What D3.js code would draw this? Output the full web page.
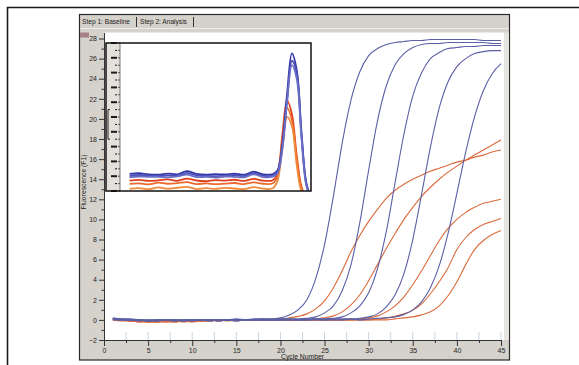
<!DOCTYPE html>
<html><head><meta charset="utf-8">
<script src="https://cdn.jsdelivr.net/npm/d3@7"></script>
<style>body{margin:0;background:#fff}svg{display:block}text{font-family:"Liberation Sans",Arial,sans-serif}</style>
</head><body><svg id="c" width="579" height="365"></svg>
<script>
// ---------- data ----------
const cycles = d3.range(1, 46);
const blue1 = [0.2,0.1,0.1,0.0,0.0,-0.1,0.0,0.0,-0.1,0.0,0.0,0.0,0.0,0.0,0.1,0.0,0.1,0.1,0.1,0.2,0.5,1.0,2.0,4.1,7.5,12.3,17.6,21.9,24.7,26.3,27.0,27.4,27.6,27.7,27.8,27.8,27.9,27.9,27.9,27.9,27.9,27.9,27.8,27.8,27.8];
const blue2 = [0.1,0.1,0.0,0.0,-0.1,-0.1,0.0,0.0,0.0,-0.1,0.0,0.0,0.0,0.0,0.0,0.0,0.0,0.1,0.0,0.1,0.1,0.1,0.15,0.3,0.7,1.4,2.9,5.5,9.7,14.9,19.8,23.3,25.4,26.5,27.1,27.4,27.5,27.5,27.6,27.6,27.6,27.6,27.6,27.5,27.5];
const blue3 = [0.1,0.0,0.0,0.0,-0.1,0.0,0.0,-0.1,0.0,0.0,0.0,-0.1,0.0,0.0,0.0,0.0,0.0,0.0,0.0,0.0,0.1,0.0,0.1,0.1,0.1,0.15,0.3,0.7,1.4,2.7,5.1,8.8,13.7,18.5,22.3,24.6,26.0,26.6,27.0,27.1,27.2,27.2,27.3,27.3,27.3];
const blue4 = [0.1,0.0,0.0,-0.1,0.0,0.0,0.0,-0.1,0.0,0.0,0.0,0.0,-0.1,0.0,0.0,0.0,0.0,0.0,0.0,0.0,0.0,0.0,0.0,0.1,0.0,0.1,0.1,0.1,0.16,0.3,0.6,1.3,2.5,4.6,8.0,12.5,17.2,21.1,23.7,25.2,26.0,26.5,26.7,26.8,26.8];
const blue5 = [0.0,0.0,0.0,0.0,-0.1,0.0,0.0,0.0,-0.1,0.0,0.0,0.0,0.0,0.0,-0.1,0.0,0.0,0.0,0.0,0.0,0.0,0.0,0.0,0.0,0.0,0.0,0.0,0.1,0.0,0.1,0.15,0.2,0.3,0.55,1.0,1.8,3.2,5.4,8.6,12.6,16.7,20.2,22.8,24.5,25.5];
const red1 = [0.1,0.0,-0.1,-0.1,-0.2,-0.2,-0.1,-0.1,-0.1,-0.1,0.0,-0.1,0.0,0.0,0.0,0.0,0.0,0.0,0.1,0.1,0.2,0.35,0.6,1.1,1.9,3.2,4.9,6.8,8.4,9.8,11.0,12.1,12.9,13.5,14.0,14.4,14.8,15.1,15.4,15.7,15.9,16.2,16.4,16.7,16.9];
const red2 = [0.1,0.0,-0.1,-0.2,-0.2,-0.1,-0.1,-0.2,-0.1,-0.1,-0.1,0.0,-0.1,0.0,0.0,0.0,0.0,0.0,0.0,0.0,0.0,0.0,0.0,0.1,0.2,0.4,0.8,1.5,2.5,3.9,5.5,7.1,8.6,10.0,11.2,12.3,13.2,14.0,14.7,15.3,15.9,16.4,16.9,17.4,17.9];
const red3 = [0.0,0.0,-0.1,-0.1,-0.1,-0.2,-0.2,-0.1,-0.1,-0.2,-0.1,-0.1,0.0,-0.1,0.0,0.0,0.0,0.0,0.0,0.0,0.0,0.0,0.0,0.0,0.0,0.0,0.0,0.0,0.1,0.2,0.4,0.8,1.4,2.3,3.5,4.9,6.4,7.9,9.1,10.0,10.7,11.2,11.6,11.8,12.0];
const red4 = [0.0,-0.1,-0.1,-0.2,-0.1,-0.1,-0.2,-0.2,-0.1,-0.1,-0.1,0.0,-0.1,0.0,0.0,0.0,0.0,0.0,0.0,0.0,0.0,0.0,0.0,0.0,0.0,0.0,0.0,0.0,0.0,0.0,0.1,0.2,0.35,0.6,0.95,1.6,2.6,3.8,5.2,7.0,8.2,9.0,9.5,9.8,10.1];
const red5 = [0.1,0.0,0.0,-0.1,-0.2,-0.2,-0.1,-0.1,-0.2,-0.1,-0.1,-0.1,0.0,0.0,-0.1,0.0,0.0,0.0,0.0,0.0,0.0,0.0,0.0,0.0,0.0,0.0,0.0,0.0,0.0,0.0,0.0,0.0,0.1,0.2,0.3,0.5,0.8,1.4,2.4,3.8,5.5,7.0,7.9,8.5,8.9];
const blueSeries = [blue1, blue2, blue3, blue4, blue5];
const redSeries = [red1, red2, red3, red4, red5];

const xTicks = [0,5,10,15,20,25,30,35,40,45];
const xMinor = [2.5,7.5,12.5,17.5,22.5,27.5,32.5,37.5,42.5];
const yTicks = [-2,0,2,4,6,8,10,12,14,16,18,20,22,24,26,28];
const yMinor = [-1,1,3,5,7,9,11,13,15,17,19,21,23,25,27];
const tabLabels = ["Step 1: Baseline", "Step 2: Analysis"];
const xTitle = "Cycle Number";
const yTitle = "Fluorescence (F1)";

// inset (melt-type peak plot)
const insetT = [2,4,6,8,10,12,14,16,18,20,22,24,26,28,30,32,33,34,35,36,37,38,39,40];
const insetBlue = [
  [11.5,12.0,11.2,11.0,11.8,11.3,13.4,11.6,11.0,11.4,11.2,11.7,11.0,13.0,11.2,11.5,14,32,66,93,82,40,6,-5],
  [10.2,10.8,10.5,10.0,10.6,10.3,12.2,10.5,10.2,10.0,10.4,10.8,10.1,12.1,10.3,10.5,13,30,62,88,80,38,5,-5],
  [9.3,9.8,9.5,9.6,9.2,9.9,11.0,9.4,9.6,9.1,9.8,9.5,9.3,11.2,9.4,9.7,12,28,60,85,76,36,4,-5]
];
const insetRed = [
  [7.0,7.5,6.8,7.2,7.8,6.9,8.4,7.1,6.6,7.4,7.0,7.6,6.8,8.2,7.0,7.3,12,38,61,52,24,3,-4,-5],
  [4.8,5.2,4.5,5.6,4.9,5.3,6.0,4.7,5.1,4.6,5.0,5.4,4.7,5.8,4.9,5.2,10,34,56,48,22,2,-4,-5],
  [1.5,2.0,1.2,2.4,1.6,2.2,2.8,1.3,1.9,1.4,2.1,1.7,1.2,2.6,1.6,1.8,7,30,50,44,18,0,-4,-5]
];
const insetTicks = d3.range(0, 101, 5);

// ---------- drawing ----------
const svg = d3.select("#c");
svg.append("path").attr("d","M7.5,365V7.5H579").attr("fill","none").attr("stroke","#1a1a1a").attr("stroke-width",1.6);

// window panel
svg.append("rect").attr("x",79.5).attr("y",14.5).attr("width",430).attr("height",345.5)
  .attr("fill","#d5d1cb").attr("stroke","#2a2a2a").attr("stroke-width",1.2);

// tabs
const tabX = [82, 140];
svg.selectAll("text.tab").data(tabLabels).join("text").attr("class","tab")
  .attr("x",(d,i)=>tabX[i]).attr("y",24).attr("font-size",6.6).attr("fill","#222").text(d=>d);
[136.5, 193.5].forEach(px=>{
  svg.append("line").attr("x1",px).attr("x2",px).attr("y1",17).attr("y2",27).attr("stroke","#333").attr("stroke-width",1);
});
svg.append("line").attr("x1",80).attr("x2",509).attr("y1",28.5).attr("y2",28.5).attr("stroke","#eeece8");

const x = d3.scaleLinear().domain([0,45]).range([104,501]);
const y = d3.scaleLinear().domain([-2,28.6]).range([340,32.5]);

// plot background
svg.append("rect").attr("x",x(0)).attr("y",y(28.6)).attr("width",x(45)+3-x(0)).attr("height",y(-2)-y(28.6)).attr("fill","#ffffff");
svg.append("rect").attr("x",x(45)+3).attr("y",y(28.6)).attr("width",5).attr("height",y(-2)-y(28.6)).attr("fill","#e6e4e0");
// pink marker near top of axis
svg.append("rect").attr("x",80).attr("y",y(28.6)).attr("width",9).attr("height",5).attr("fill","#a8808a");

// faint in-plot tick marks
svg.selectAll("line.ft").data(xTicks.concat(xMinor)).join("line").attr("class","ft")
  .attr("x1",d=>x(d)).attr("x2",d=>x(d)).attr("y1",y(-2)-8).attr("y2",y(-2)).attr("stroke","#cdd3e4").attr("stroke-width",1);

// lines
const clip = svg.append("clipPath").attr("id","pc").append("rect")
  .attr("x",x(0)).attr("y",y(28.6)).attr("width",x(45)+3-x(0)).attr("height",y(-2)-y(28.6));
const line = d3.line().x((d,i)=>x(cycles[i])).y(d=>y(d)).curve(d3.curveMonotoneX);
const g = svg.append("g").attr("clip-path","url(#pc)");
g.selectAll("path.r").data(redSeries).join("path").attr("class","r")
  .attr("d",line).attr("fill","none").attr("stroke","#dc6a3c").attr("stroke-width",1.1);
g.selectAll("path.b").data(blueSeries).join("path").attr("class","b")
  .attr("d",line).attr("fill","none").attr("stroke","#5b5fa6").attr("stroke-width",1.1);

// axes
function styleAxis(sel){
  sel.selectAll("path.domain").attr("stroke","#333");
  sel.selectAll("line").attr("stroke","#333");
  sel.selectAll("text").attr("font-size",7).attr("fill","#262626").attr("font-family","Liberation Sans, Arial, sans-serif");
}
const ya = svg.append("g").attr("transform",`translate(${x(0)},0)`)
  .call(d3.axisLeft(y).tickValues(yTicks).tickSize(5).tickPadding(2).tickSizeOuter(0));
styleAxis(ya);
const yam = svg.append("g").attr("transform",`translate(${x(0)},0)`)
  .call(d3.axisLeft(y).tickValues(yMinor).tickSize(2.5).tickFormat("").tickSizeOuter(0));
styleAxis(yam); yam.select("path.domain").remove();

const xa = svg.append("g").attr("transform",`translate(0,${y(-2)})`)
  .call(d3.axisBottom(x).tickValues(xTicks).tickSize(6).tickPadding(2).tickSizeOuter(0));
styleAxis(xa);
const xam = svg.append("g").attr("transform",`translate(0,${y(-2)})`)
  .call(d3.axisBottom(x).tickValues(xMinor).tickSize(3).tickFormat("").tickSizeOuter(0));
styleAxis(xam); xam.select("path.domain").remove();

svg.append("text").attr("x",(x(0)+x(45))/2).attr("y",359).attr("text-anchor","middle")
  .attr("font-size",6.8).attr("fill","#222").text(xTitle);
svg.append("text").attr("transform","translate(86,182) rotate(-90)").attr("text-anchor","middle")
  .attr("font-size",6.8).attr("fill","#222").text(yTitle);

// ---------- inset ----------
const ix = d3.scaleLinear().domain([0,40]).range([120,311]);
const iy = d3.scaleLinear().domain([0,100]).range([191,43]);
svg.append("rect").attr("x",106).attr("y",iy(100)).attr("width",ix(40)-106).attr("height",iy(0)-iy(100)).attr("fill","#fff");
svg.append("rect").attr("x",106).attr("y",iy(100)).attr("width",ix(0)-106).attr("height",iy(0)-iy(100)).attr("fill","#e4e1dc");
const it = svg.append("g");
it.selectAll("line.mt").data(insetTicks).join("line").attr("class","mt")
  .attr("x1",d=>d%10===0?111:115).attr("x2",d=>d%10===0?117:117)
  .attr("y1",d=>iy(d)).attr("y2",d=>iy(d)).attr("stroke","#1a1a1a").attr("stroke-width",d=>d%10===0?2:1);
it.selectAll("line.st").data(insetTicks).join("line").attr("class","st")
  .attr("x1",ix(0)-2).attr("x2",ix(0)).attr("y1",d=>iy(d)).attr("y2",d=>iy(d)).attr("stroke","#333").attr("stroke-width",0.8);
svg.append("line").attr("x1",ix(0)).attr("x2",ix(0)).attr("y1",iy(100)).attr("y2",iy(0)).attr("stroke","#555").attr("stroke-width",0.8);
svg.append("path").attr("d",`M110,${iy(55)}H108V${iy(35)}H110`).attr("fill","none").attr("stroke","#222").attr("stroke-width",1);

svg.append("clipPath").attr("id","ic").append("rect").attr("x",ix(0)).attr("y",iy(100)).attr("width",ix(40)-ix(0)).attr("height",iy(0)-iy(100));
const iline = d3.line().x((d,i)=>ix(insetT[i])).y(d=>iy(d)).curve(d3.curveCatmullRom);
const ig = svg.append("g").attr("clip-path","url(#ic)");
const redCols = ["#e0401e","#ec6a2c","#f08a3a"];
ig.selectAll("path.ir").data(insetRed).join("path").attr("class","ir")
  .attr("d",iline).attr("fill","none").attr("stroke",(d,i)=>redCols[i]).attr("stroke-width",1.8);
const blueCols = ["#3438a8","#4a4eb8","#6a6ec4"];
ig.selectAll("path.ib").data(insetBlue).join("path").attr("class","ib")
  .attr("d",iline).attr("fill","none").attr("stroke",(d,i)=>blueCols[i]).attr("stroke-width",1.8);

svg.append("rect").attr("x",106).attr("y",iy(100)).attr("width",ix(40)-106).attr("height",iy(0)-iy(100))
  .attr("fill","none").attr("stroke","#111").attr("stroke-width",1.5);
</script></body></html>
